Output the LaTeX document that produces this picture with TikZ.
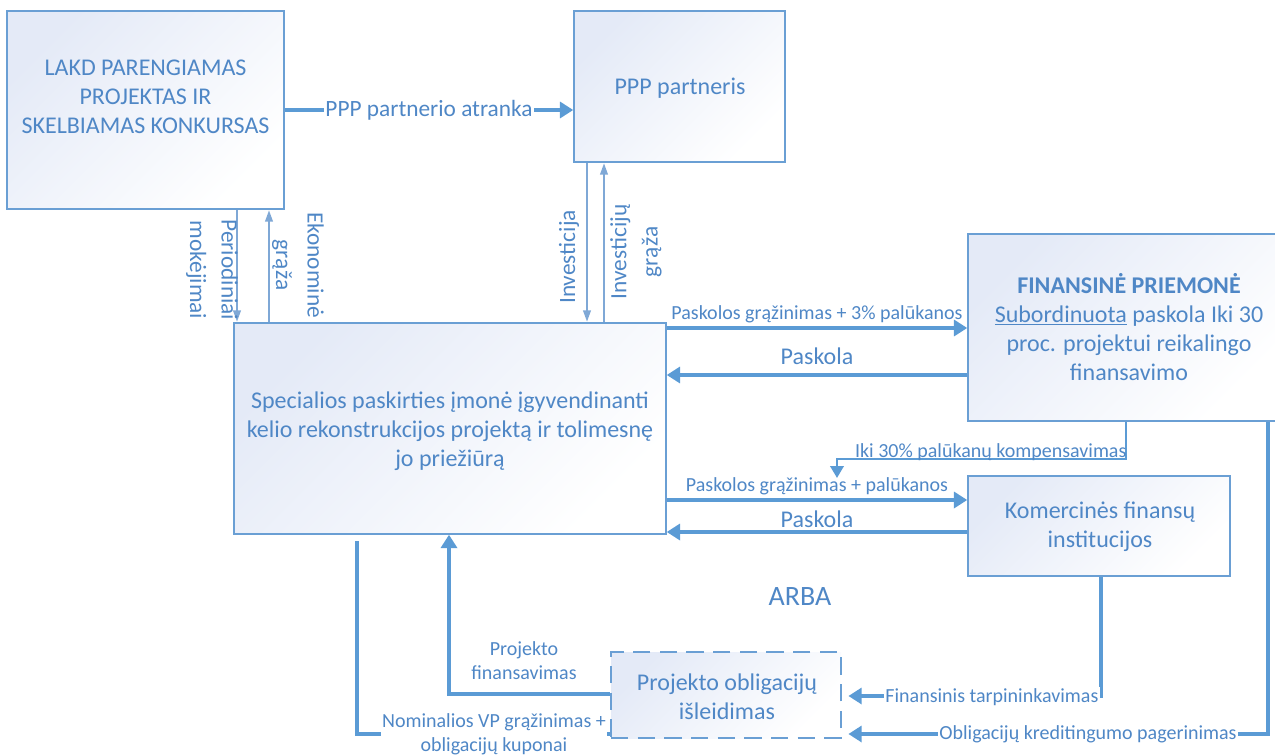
\documentclass[tikz,border=0pt]{standalone}
\usepackage{fontspec}
\setmainfont{Carlito}
\usetikzlibrary{arrows.meta}
\definecolor{lc}{HTML}{5B9BD5}
\definecolor{tc}{HTML}{4F87C6}
\definecolor{bc}{HTML}{6A9FD4}
\definecolor{gc}{HTML}{E4EAF7}
\definecolor{ac}{HTML}{7FA8D6}
\newcommand\fsz[2]{\fontsize{#1}{#2}\selectfont}
\begin{document}
\begin{tikzpicture}[x=0.75pt,y=-0.75pt,
  box/.style={draw=bc, line width=1.1pt, top color=gc, bottom color=white, shading angle=45, inner sep=0pt},
  txt/.style={text=tc, align=center, font=\fsz{18}{21.75}},
  arr/.style={draw=lc, line width=3pt, -{Triangle[length=10pt,width=12pt]}},
  arrs/.style={draw=lc, line width=2pt, -{Triangle[length=9pt,width=10pt]}},
  ln/.style={draw=lc, line width=3pt},
  slimarr/.style={draw=ac, line width=2.1pt, -{Triangle[length=9pt,width=5.5pt]}},
  lbl/.style={text=tc, fill=white, inner sep=1pt, align=center},
  vlbl/.style={text=tc, align=center, inner sep=0pt, font=\fsz{17.5}{23.5}},
]
\useasboundingbox (0,0) rectangle (1275,756);
% helper coordinates
\coordinate (c110) at (0,110);
\coordinate (c237) at (237,0);
\coordinate (c269) at (269,0);
\coordinate (c587) at (587,0);
\coordinate (c604) at (604,0);
\coordinate (c328) at (0,328);
\coordinate (c375) at (0,375);
\coordinate (c500) at (0,500);
\coordinate (c532) at (0,532);
\coordinate (c1126) at (1126,0);
\coordinate (kompTurn) at (837,459);
\coordinate (kompEnd) at (837,478);
\coordinate (c694) at (0,694);
\coordinate (c449) at (449,0);
\coordinate (c734) at (0,734);
\coordinate (c357) at (357,0);
\coordinate (c1101) at (1101,0);
\coordinate (c696) at (0,696);
\coordinate (c1268) at (1268,0);

% boxes
\node[box, minimum width={277*0.75pt}, minimum height={198*0.75pt}] (lakd) at (145.5,110) {};
\node[txt] (lakdT) at (145.5,97) {LAKD PARENGIAMAS\\PROJEKTAS IR\\SKELBIAMAS KONKURSAS};
\node[box, minimum width={211*0.75pt}, minimum height={151*0.75pt}] (ppp) at (679.5,86.5) {};
\node[txt] (pppT) at (680,88) {PPP partneris};
\node[box, minimum width={432*0.75pt}, minimum height={211*0.75pt}] (spv) at (450,428.5) {};
\node[txt] (spvT) at (450,431) {Specialios paskirties įmonė įgyvendinanti\\kelio rekonstrukcijos projektą ir tolimesnę\\jo priežiūrą};
\node[box, minimum width={310*0.75pt}, minimum height={187*0.75pt}] (fp) at (1123,327.5) {};
\node[txt] (fpT) at (1129,327) {\textbf{FINANSINĖ PRIEMONĖ}\\\underline{Subordinuota} paskola Iki 30\\proc. projektui reikalingo\\finansavimo};
\node[box, minimum width={262*0.75pt}, minimum height={100*0.75pt}] (kfi) at (1099,526) {};
\node[txt] (kfiT) at (1100,527) {Komercinės finansų\\institucijos};
\node[box, dash pattern=on 13pt off 7pt, minimum width={230*0.75pt}, minimum height={86*0.75pt}] (obl) at (726,695) {};
\node[txt] (oblT) at (727,697) {Projekto obligacijų\\išleidimas};
\node[text=tc, font=\fsz{21}{24}] (arba) at (800,597) {ARBA};

% connectors
\draw[arr] (lakd.east |- c110) -- node[lbl, font=\fsz{17.5}{20}] (l1) {PPP partnerio atranka} (ppp.west |- c110);

\draw[slimarr] (lakd.south -| c237) -- (spv.north -| c237);
\node[vlbl, rotate=-90] (perT) at (212,270) {Periodiniai\\mokėjimai};
\draw[slimarr] (spv.north -| c269) -- (lakd.south -| c269);
\node[vlbl, rotate=-90] (ekoT) at (298,265) {Ekonominė\\grąža};
\draw[slimarr] (ppp.south -| c587) -- (spv.north -| c587);
\node[vlbl, rotate=90] (invT) at (569,257) {Investicija};
\draw[slimarr] (spv.north -| c604) -- (ppp.south -| c604);
\node[vlbl, rotate=90] (invgT) at (636,252) {Investicijų\\grąža};

\draw[arr] (spv.east |- c328) -- node[above=1.5pt, text=tc, font=\fsz{15}{17}, inner sep=1pt] (l2) {Paskolos grąžinimas + 3\% palūkanos} (fp.west |- c328);
\draw[arr] (fp.west |- c375) -- node[above=5pt, text=tc, font=\fsz{18}{20}, inner sep=1pt] (l3) {Paskola} (spv.east |- c375);

\draw[arrs] (fp.south -| c1126) |- (kompTurn) -- (kompEnd);
\node[text=tc, font=\fsz{15}{17}, anchor=south east, inner sep=1pt] (l4) at (1128,462) {Iki 30\% palūkanų kompensavimas};

\draw[arr] (spv.east |- c500) -- node[above=1.5pt, text=tc, font=\fsz{15}{17}, inner sep=1pt] (l5) {Paskolos grąžinimas + palūkanos} (kfi.west |- c500);
\draw[arr] (kfi.west |- c532) -- node[above=1pt, text=tc, font=\fsz{18}{20}, inner sep=1pt] (l6) {Paskola} (spv.east |- c532);

\draw[arr] (obl.west |- c694) -| (spv.south -| c449);
\node[text=tc, align=center, font=\fsz{15}{18}] (l7) at (524,661) {Projekto\\finansavimas};

\draw[ln, shorten >=4.5pt] (obl.west |- c734) -| (spv.south -| c357);
\node[lbl, font=\fsz{15}{18}] (l8) at (494,734) {Nominalios VP grąžinimas +\\obligacijų kuponai};

\draw[arr, shorten >=5pt] (kfi.south -| c1101) |- (obl.east |- c696);
\node[lbl, font=\fsz{15}{17}, anchor=east] (l9) at (1100,697) {Finansinis tarpininkavimas};

\draw[arr, shorten >=5pt] (fp.south -| c1268) |- (obl.east |- c734);
\node[lbl, font=\fsz{15}{17}] (l10) at (1088,734) {Obligacijų kreditingumo pagerinimas};
\end{tikzpicture}
\end{document}
